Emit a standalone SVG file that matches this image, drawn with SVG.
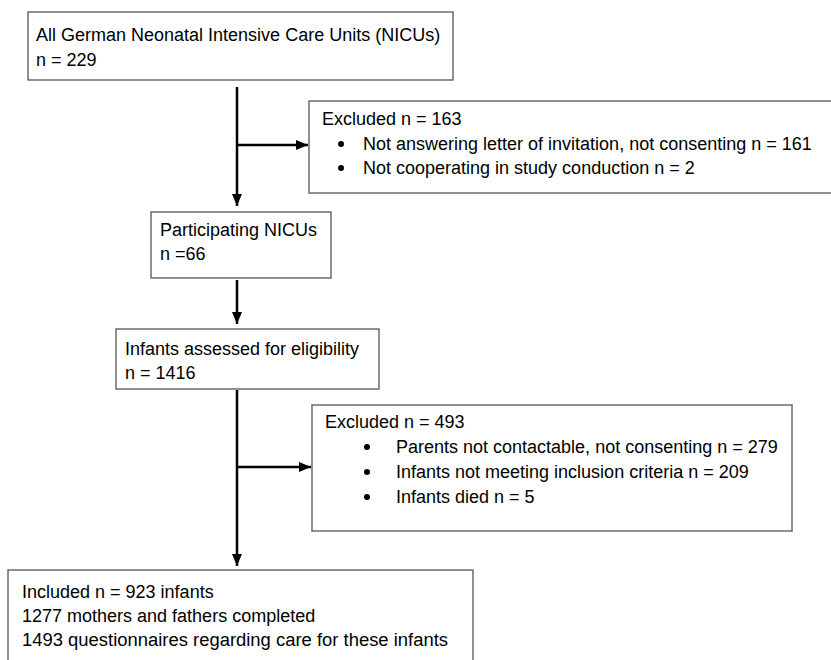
<svg xmlns="http://www.w3.org/2000/svg" width="831" height="660" viewBox="0 0 831 660">
<style>
.box{fill:#fff;stroke:#555;stroke-width:1.3}
.t{font-family:"Liberation Sans",Arial,sans-serif;font-size:18px;fill:#000}
.c{stroke:#000;stroke-width:2.5;fill:none}
</style>
<defs>
<marker id="ah" viewBox="0 0 12 10" refX="12" refY="5" markerWidth="12" markerHeight="10" markerUnits="userSpaceOnUse" orient="auto">
<path d="M0,0 L12,5 L0,10 z" fill="#000"/>
</marker>
</defs>
<rect width="831" height="660" fill="#fff"/>
<g id="connectors">
<line class="c" x1="237" y1="87" x2="237" y2="206" marker-end="url(#ah)"/>
<line class="c" x1="237" y1="145" x2="308" y2="145" marker-end="url(#ah)"/>
<line class="c" x1="237" y1="280" x2="237" y2="324" marker-end="url(#ah)"/>
<line class="c" x1="237" y1="390" x2="237" y2="566" marker-end="url(#ah)"/>
<line class="c" x1="237" y1="467" x2="311" y2="467" marker-end="url(#ah)"/>
</g>
<g id="n1">
<rect class="box" x="28" y="12" width="425" height="68"/>
<text class="t" x="36" y="41">All German Neonatal Intensive Care Units (NICUs)</text>
<text class="t" x="36" y="66">n = 229</text>
</g>
<g id="ex1">
<rect class="box" x="309" y="101" width="540" height="92"/>
<text class="t" x="322" y="125">Excluded n = 163</text>
<circle cx="341" cy="144" r="3"/>
<text class="t" x="363" y="150">Not answering letter of invitation, not consenting n = 161</text>
<circle cx="341" cy="168" r="3"/>
<text class="t" x="363" y="174">Not cooperating in study conduction n = 2</text>
</g>
<g id="n2">
<rect class="box" x="151" y="212" width="180" height="66"/>
<text class="t" x="160" y="236">Participating NICUs</text>
<text class="t" x="160" y="260">n =66</text>
</g>
<g id="n3">
<rect class="box" x="116" y="329" width="263" height="60"/>
<text class="t" x="125" y="355">Infants assessed for eligibility</text>
<text class="t" x="125" y="379">n = 1416</text>
</g>
<g id="ex2">
<rect class="box" x="312" y="405" width="480" height="126"/>
<text class="t" x="325" y="428">Excluded n = 493</text>
<circle cx="367" cy="447" r="3"/>
<text class="t" x="396" y="453">Parents not contactable, not consenting n = 279</text>
<circle cx="367" cy="472" r="3"/>
<text class="t" x="396" y="478">Infants not meeting inclusion criteria n = 209</text>
<circle cx="367" cy="497" r="3"/>
<text class="t" x="396" y="503">Infants died n = 5</text>
</g>
<g id="n4">
<rect class="box" x="8" y="570" width="465" height="110"/>
<text class="t" x="22" y="598">Included n = 923 infants</text>
<text class="t" x="22" y="622">1277 mothers and fathers completed</text>
<text class="t" x="22" y="646" textLength="426" lengthAdjust="spacingAndGlyphs">1493 questionnaires regarding care for these infants</text>
</g>
</svg>
